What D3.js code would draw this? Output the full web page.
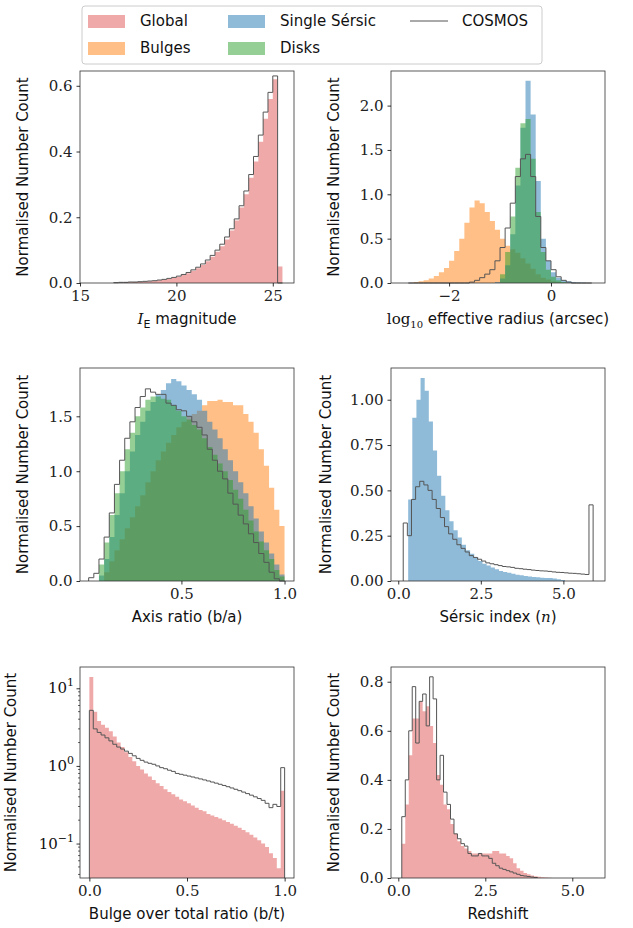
<!DOCTYPE html>
<html><head><meta charset="utf-8">
<script src="https://cdn.jsdelivr.net/npm/d3@7"></script>
<style>
body{margin:0;background:#fff}
.tick text{font-family:"DejaVu Serif","Liberation Serif",serif;font-size:15px;fill:#222}
.lab{font-family:"DejaVu Sans",sans-serif;font-size:15px;fill:#111}
</style></head><body><div id="fig"></div>
<script>
// ---- data (bin starts, bin width, heights) ----
var magStart = 16.75, magW = 0.25;
var magGlobal = [0.001,0.001,0.002,0.002,0.003,0.003,0.004,0.005,0.006,0.008,0.010,0.012,0.015,0.019,0.024,0.030,0.037,0.045,0.055,0.066,0.080,0.095,0.112,0.132,0.160,0.190,0.230,0.270,0.320,0.370,0.430,0.500,0.560,0.620,0.050];
var magCosmos = [0.001,0.002,0.002,0.003,0.003,0.004,0.005,0.006,0.007,0.009,0.011,0.014,0.017,0.021,0.026,0.032,0.040,0.048,0.058,0.070,0.084,0.100,0.118,0.140,0.165,0.195,0.235,0.280,0.330,0.385,0.450,0.520,0.580,0.630,0];

var radStart = -2.8, radW = 0.1;
var radBulges = [0,0.01,0.02,0.03,0.05,0.08,0.12,0.17,0.25,0.36,0.5,0.68,0.85,0.93,0.9,0.8,0.7,0.6,0.5,0.42,0.38,0.34,0.28,0.22,0.16,0.1,0.06,0.04,0.02,0.01,0.005,0,0,0,0,0];
var radSingle = [0,0,0,0,0,0,0,0,0,0,0,0,0,0,0,0,0,0.01,0.05,0.2,0.55,1.1,1.75,2.28,1.9,1.15,0.5,0.25,0.12,0.06,0.03,0.02,0.01,0.005,0.003,0];
var radDisks = [0,0,0,0,0,0,0,0,0,0,0,0,0,0,0,0,0,0,0.1,0.35,0.75,1.3,1.8,1.85,1.4,0.8,0.35,0.15,0.07,0.03,0.01,0,0,0,0,0];
var radCosmos = [0,0,0,0,0,0,0,0,0,0,0,0,0.01,0.03,0.06,0.1,0.15,0.25,0.4,0.62,0.9,1.2,1.4,1.45,1.2,0.75,0.4,0.25,0.15,0.07,0.03,0.01,0,0,0,0];

var axStart = 0.05, axW = 0.025;
var axBulges = [0,0,0,0.08,0.18,0.28,0.38,0.48,0.58,0.68,0.78,0.9,1.0,1.1,1.18,1.26,1.33,1.4,1.45,1.5,1.52,1.55,1.6,1.64,1.64,1.65,1.63,1.63,1.6,1.6,1.52,1.45,1.35,1.2,1.05,0.85,0.65,0.5];
var axSingle = [0,0,0.05,0.2,0.4,0.6,0.8,1.0,1.18,1.33,1.45,1.55,1.63,1.7,1.74,1.8,1.84,1.82,1.78,1.74,1.7,1.65,1.55,1.45,1.38,1.3,1.2,1.1,1.0,0.9,0.8,0.68,0.57,0.45,0.35,0.25,0.15,0.06];
var axDisks = [0,0,0.15,0.35,0.6,0.8,1.0,1.2,1.35,1.5,1.58,1.65,1.68,1.68,1.66,1.65,1.6,1.55,1.5,1.47,1.42,1.38,1.3,1.22,1.15,1.07,1.0,0.92,0.83,0.75,0.65,0.55,0.45,0.36,0.28,0.2,0.1,0.04];
var axCosmos = [0.03,0.07,0.2,0.4,0.62,0.88,1.1,1.3,1.45,1.58,1.68,1.75,1.72,1.7,1.7,1.62,1.6,1.56,1.55,1.5,1.45,1.4,1.33,1.2,1.1,1.0,0.93,0.8,0.7,0.6,0.52,0.43,0.35,0.25,0.17,0.08,0.02,0];

var nStart = 0.3, nW = 0.125;
var nSingle = [0.45,0.9,1.0,1.12,1.05,0.88,0.72,0.58,0.47,0.39,0.33,0.28,0.24,0.2,0.17,0.15,0.13,0.11,0.095,0.085,0.075,0.065,0.055,0.05,0.045,0.04,0.035,0.032,0.028,0.025,0.022,0.02,0.018,0.017,0.016,0.014,0.01,0.005];
var nCosmosStart = 0.15;
var nCosmos = [0.32,0.25,0.45,0.52,0.55,0.53,0.5,0.45,0.4,0.35,0.3,0.26,0.23,0.2,0.18,0.16,0.14,0.13,0.12,0.11,0.1,0.095,0.09,0.085,0.08,0.078,0.075,0.07,0.068,0.065,0.063,0.06,0.058,0.056,0.055,0.053,0.05,0.048,0.047,0.045,0.043,0.042,0.04,0.038,0.036,0.42];

var btStart = 0, btW = 0.02;
var btGlobal = [14,5.0,3.8,3.4,3.1,2.8,2.4,2.0,1.75,1.5,1.3,1.15,1.0,0.9,0.8,0.73,0.66,0.6,0.55,0.5,0.46,0.43,0.4,0.37,0.35,0.33,0.31,0.29,0.27,0.26,0.24,0.23,0.22,0.21,0.2,0.19,0.18,0.17,0.16,0.15,0.14,0.13,0.12,0.11,0.1,0.09,0.075,0.065,0.048,0.48];
var btCosmos = [5.2,3.0,2.7,2.5,2.3,2.1,1.9,1.75,1.65,1.55,1.45,1.35,1.25,1.18,1.12,1.08,1.05,1.0,0.95,0.92,0.88,0.85,0.8,0.78,0.76,0.74,0.72,0.7,0.68,0.66,0.64,0.62,0.6,0.58,0.56,0.54,0.52,0.5,0.48,0.46,0.44,0.42,0.4,0.38,0.36,0.33,0.29,0.32,0.3,0.95];

var zStart = 0.1, zW = 0.1;
var zGlobal = [0.14,0.3,0.5,0.65,0.65,0.72,0.68,0.7,0.62,0.55,0.42,0.38,0.3,0.28,0.22,0.18,0.15,0.13,0.12,0.11,0.1,0.1,0.1,0.1,0.1,0.1,0.11,0.11,0.1,0.1,0.09,0.08,0.06,0.04,0.03,0.02,0.015,0.01,0.007,0.005,0.003,0.002,0.001];
var zCosmos = [0.25,0.4,0.6,0.78,0.55,0.72,0.75,0.62,0.82,0.73,0.4,0.5,0.35,0.3,0.24,0.18,0.16,0.14,0.13,0.1,0.09,0.09,0.1,0.09,0.09,0.08,0.06,0.05,0.04,0.035,0.03,0.025,0.02,0.015,0.01,0.008,0.006,0.004,0.002];

var colors = {Global:"#d62728", Bulges:"#ff7f0e", Single:"#1f77b4", Disks:"#2ca02c"};
var alphaOf = {Global:0.4, Bulges:0.5, Single:0.5, Disks:0.5};

var W = 633, H = 928;
var svg = d3.select("#fig").append("svg").attr("width", W).attr("height", H);

// step outline of a histogram, closed down to the baseline at both ends
function stepPoints(start, w, vals, base) {
  var pts = [[start, base]];
  vals.forEach(function(v, i) {
    pts.push([start + i * w, Math.max(v, base)]);
    pts.push([start + (i + 1) * w, Math.max(v, base)]);
  });
  pts.push([start + vals.length * w, base]);
  return pts;
}

function panel(o) {
  var g = svg.append("g");
  var x = d3.scaleLinear().domain(o.xd).range([o.left, o.left + 214]);
  var y = (o.log ? d3.scaleLog() : d3.scaleLinear()).domain(o.yd).range([o.top + o.h, o.top]);
  var base = o.log ? o.yd[0] : 0;
  var line = d3.line().x(function(p) { return x(p[0]); }).y(function(p) { return y(p[1]); });
  o.fills.forEach(function(f) {
    g.append("path").attr("d", line(stepPoints(f.start, f.w, f.vals, base)) + "Z")
      .attr("fill", colors[f.name]).attr("fill-opacity", alphaOf[f.name]);
  });
  if (o.line) {
    g.append("path").attr("d", line(stepPoints(o.line.start, o.line.w, o.line.vals, base)))
      .attr("fill", "none").attr("stroke", "#555").attr("stroke-width", 1);
  }
  g.append("rect").attr("x", o.left).attr("y", o.top).attr("width", 214).attr("height", o.h)
    .attr("fill", "none").attr("stroke", "#333").attr("stroke-width", 0.8);
  var fmtMinus = function(f) { return function(d) { return f(d).replace("-", "\u2212"); }; };
  var xa = d3.axisBottom(x).tickValues(o.xt).tickFormat(fmtMinus(o.xf)).tickSizeOuter(0).tickSize(3.5).tickPadding(4);
  var gx = g.append("g").attr("transform", "translate(0," + (o.top + o.h) + ")").call(xa);
  gx.select(".domain").remove();
  if (o.log) {
    var ya = d3.axisLeft(y).tickValues(o.yt).tickFormat("").tickSize(3.5);
    var gy = g.append("g").attr("transform", "translate(" + o.left + ",0)").call(ya);
    gy.select(".domain").remove();
    var minor = [];
    [0.01, 0.1, 1, 10].forEach(function(dd) { for (var k = 2; k <= 9; k++) { var v = k * dd; if (v > o.yd[0] && v < o.yd[1]) minor.push(v); } });
    gy.selectAll(".mn").data(minor).enter().append("line").attr("x1", 0).attr("x2", -2)
      .attr("y1", function(d) { return y(d); }).attr("y2", function(d) { return y(d); }).attr("stroke", "#000").attr("stroke-width", 0.6);
    o.yt.forEach(function(v) {
      var t = g.append("text").attr("class", "lab").attr("text-anchor", "end")
        .attr("x", o.left - 6).attr("y", y(v) + 5)
        .style("font-family", "DejaVu Serif,serif").style("font-size", "15px");
      t.append("tspan").text("10");
      t.append("tspan").attr("dy", -7).style("font-size", "11px").text(String(Math.round(Math.log10(v))).replace("-", "\u2212"));
    });
  } else {
    var ya2 = d3.axisLeft(y).tickValues(o.yt).tickFormat(o.yf).tickSize(3.5).tickPadding(4);
    var gy2 = g.append("g").attr("transform", "translate(" + o.left + ",0)").call(ya2);
    gy2.select(".domain").remove();
  }
  g.selectAll(".tick line").attr("stroke", "#000").attr("stroke-width", 0.8);
  g.append("text").attr("class", "lab").attr("text-anchor", "middle")
    .attr("transform", "translate(" + (o.left + o.ylx) + "," + (o.top + o.h / 2) + ") rotate(-90)")
    .text("Normalised Number Count");
  var xl = g.append("text").attr("class", "lab").attr("text-anchor", "middle")
    .attr("x", o.left + 107).attr("y", o.top + o.h + 41);
  o.xlab(xl);
}

function plain(s) { return function(t) { t.text(s); }; }

var rows = [71, 368, 667];
var rowH = [212, 213, 211];

panel({left: 80, top: rows[0], h: rowH[0], xd: [15, 26.1], yd: [0, 0.645],
  xt: [15, 20, 25], xf: d3.format("d"), yt: [0, 0.2, 0.4, 0.6], yf: d3.format(".1f"), ylx: -52,
  fills: [{name: "Global", start: magStart, w: magW, vals: magGlobal}],
  line: {start: magStart, w: magW, vals: magCosmos},
  xlab: function(t) {
    t.append("tspan").style("font-family", "DejaVu Serif,serif").style("font-style", "italic").text("I");
    t.append("tspan").attr("dy", 4).style("font-size", "11px").text("E");
    t.append("tspan").attr("dy", -4).text(" magnitude");
  }});

panel({left: 391, top: rows[0], h: rowH[0], xd: [-3.14, 1.06], yd: [0, 2.39],
  xt: [-2, 0], xf: d3.format("d"), yt: [0, 0.5, 1, 1.5, 2], yf: d3.format(".1f"), ylx: -52,
  fills: [{name: "Bulges", start: radStart, w: radW, vals: radBulges},
          {name: "Single", start: radStart, w: radW, vals: radSingle},
          {name: "Disks", start: radStart, w: radW, vals: radDisks}],
  line: {start: radStart, w: radW, vals: radCosmos},
  xlab: function(t) {
    t.append("tspan").style("font-family", "DejaVu Serif,serif").text("log");
    t.append("tspan").attr("dy", 4).style("font-size", "10px").style("font-family", "DejaVu Serif,serif").text("10");
    t.append("tspan").attr("dy", -4).text(" effective radius (arcsec)");
  }});

panel({left: 80, top: rows[1], h: rowH[1], xd: [0.008, 1.046], yd: [0, 1.94],
  xt: [0.5, 1.0], xf: d3.format(".1f"), yt: [0, 0.5, 1, 1.5], yf: d3.format(".1f"), ylx: -52,
  fills: [{name: "Bulges", start: axStart, w: axW, vals: axBulges},
          {name: "Single", start: axStart, w: axW, vals: axSingle},
          {name: "Disks", start: axStart, w: axW, vals: axDisks}],
  line: {start: axStart, w: axW, vals: axCosmos},
  xlab: plain("Axis ratio (b/a)")});

panel({left: 391, top: rows[1], h: rowH[1], xd: [-0.22, 6.26], yd: [0, 1.175],
  xt: [0, 2.5, 5], xf: d3.format(".1f"), yt: [0, 0.25, 0.5, 0.75, 1], yf: d3.format(".2f"), ylx: -60,
  fills: [{name: "Single", start: nStart, w: nW, vals: nSingle}],
  line: {start: nCosmosStart, w: nW, vals: nCosmos},
  xlab: function(t) {
    t.append("tspan").text("Sérsic index (");
    t.append("tspan").style("font-family", "DejaVu Serif,serif").style("font-style", "italic").text("n");
    t.append("tspan").text(")");
  }});

panel({left: 80, top: rows[2], h: rowH[2], xd: [-0.048, 1.048], yd: [0.036, 18.8], log: true,
  xt: [0, 0.5, 1], xf: d3.format(".1f"), yt: [0.1, 1, 10], ylx: -64,
  fills: [{name: "Global", start: btStart, w: btW, vals: btGlobal}],
  line: {start: btStart, w: btW, vals: btCosmos},
  xlab: plain("Bulge over total ratio (b/t)")});

panel({left: 391, top: rows[2], h: rowH[2], xd: [-0.21, 5.94], yd: [0, 0.86],
  xt: [0, 2.5, 5], xf: d3.format(".1f"), yt: [0, 0.2, 0.4, 0.6, 0.8], yf: d3.format(".1f"), ylx: -52,
  fills: [{name: "Global", start: zStart, w: zW, vals: zGlobal}],
  line: {start: zStart, w: zW, vals: zCosmos},
  xlab: plain("Redshift")});

// legend
var lg = svg.append("g");
lg.append("rect").attr("x", 82).attr("y", 6).attr("width", 460).attr("height", 58).attr("rx", 3)
  .attr("fill", "#fff").attr("stroke", "#ccc");
var items = [
  {name: "Global", label: "Global", cx: 88, cy: 21},
  {name: "Bulges", label: "Bulges", cx: 88, cy: 48},
  {name: "Single", label: "Single Sérsic", cx: 228, cy: 21},
  {name: "Disks", label: "Disks", cx: 228, cy: 48}
];
items.forEach(function(it) {
  lg.append("rect").attr("x", it.cx).attr("y", it.cy - 6).attr("width", 37).attr("height", 13)
    .attr("fill", colors[it.name]).attr("fill-opacity", alphaOf[it.name]);
  lg.append("text").attr("class", "lab").attr("x", it.cx + 52).attr("y", it.cy + 5).text(it.label);
});
lg.append("line").attr("x1", 410).attr("x2", 448).attr("y1", 21).attr("y2", 21).attr("stroke", "#555").attr("stroke-width", 1);
lg.append("text").attr("class", "lab").attr("x", 462).attr("y", 26).text("COSMOS");
</script></body></html>
